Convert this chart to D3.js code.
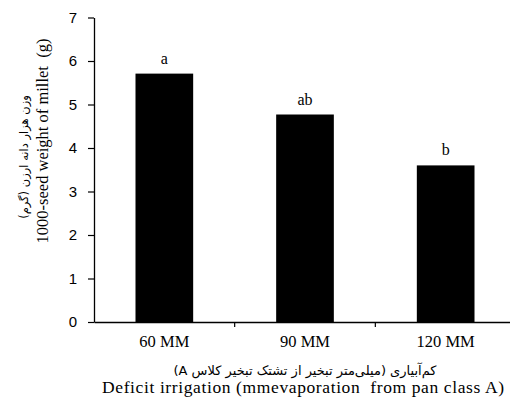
<!DOCTYPE html>
<html><head><meta charset="utf-8">
<script src="https://cdn.jsdelivr.net/npm/d3@7"></script>
<style>body{margin:0;background:#fff}svg text{white-space:pre}</style>
</head><body>
<svg id="c" width="510" height="401"></svg>
<script>
const categories = ["60 MM", "90 MM", "120 MM"];
const values = [5.71, 4.77, 3.60];
const letters = ["a", "ab", "b"];
const yTicks = [0, 1, 2, 3, 4, 5, 6, 7];
const yTitleEn = "1000-seed weight of millet  (g)";
const yTitleFa = "وزن هزار دانه ارزن (گرم)";
const xTitleEn = "Deficit irrigation (mmevaporation  from pan class A)";
const xTitleFa = "کم‌آبیاری (میلی‌متر تبخیر از تشتک تبخیر کلاس A)";

const svg = d3.select("#c");
const mLeft = 94, mRight = 516, mTop = 17.5, mBottom = 322;
const x = d3.scaleBand().domain(categories).range([mLeft, mRight]).paddingInner(0.59).paddingOuter(0.295);
const y = d3.scaleLinear().domain([0, 7]).range([mBottom, mTop]);
const serif = "'Liberation Serif','Times New Roman',serif";

svg.selectAll("rect.bar").data(values).enter().append("rect")
  .attr("x", (d, i) => x(categories[i]))
  .attr("y", d => y(d))
  .attr("width", x.bandwidth())
  .attr("height", d => y(0) - y(d))
  .attr("fill", "#000");

svg.selectAll("text.lt").data(values).enter().append("text")
  .attr("x", (d, i) => x(categories[i]) + x.bandwidth() / 2)
  .attr("y", d => y(d) - 10)
  .attr("text-anchor", "middle")
  .attr("font-family", serif).attr("font-size", 16)
  .text((d, i) => letters[i]);

// y axis
const ya = svg.append("g").attr("transform", `translate(${mLeft},0)`)
  .call(d3.axisLeft(y).tickValues(yTicks).tickFormat(d3.format("d")).tickSize(6).tickSizeOuter(0).tickPadding(11));
ya.select(".domain").attr("stroke", "#000").attr("stroke-width", 1.3);
ya.selectAll(".tick line").attr("stroke-width", 1.2);
ya.selectAll("text").attr("font-family", "'Liberation Sans',Arial,sans-serif").attr("font-size", 15).attr("fill", "#000");

// x axis
const bandStep = x.step();
const xa = svg.append("g").attr("transform", `translate(0,${mBottom})`)
  .call(d3.axisBottom(x).tickSize(0).tickPadding(13));
xa.select(".domain").attr("stroke", "#000").attr("stroke-width", 1.3);
xa.selectAll("text").attr("font-family", serif).attr("font-size", 16.5).attr("fill", "#000");
const bounds = categories.slice(1).map(c => x(c) - (bandStep - x.bandwidth()) / 2);
svg.selectAll("line.sep").data(bounds).enter().append("line")
  .attr("x1", d => d).attr("x2", d => d)
  .attr("y1", mBottom).attr("y2", mBottom + 5)
  .attr("stroke", "#000").attr("stroke-width", 1.2);

// x titles
svg.append("text").attr("x", 305).attr("y", 375).attr("text-anchor", "middle")
  .attr("font-family", "'DejaVu Sans',sans-serif").attr("font-size", 13).attr("direction", "rtl")
  .text(xTitleFa);
svg.append("text").attr("x", 303).attr("y", 393).attr("text-anchor", "middle")
  .attr("font-family", serif).attr("font-size", 17.5)
  .attr("textLength", 402).attr("lengthAdjust", "spacing")
  .text(xTitleEn);

// y titles
svg.append("text").attr("transform", "translate(48,141) rotate(-90)").attr("text-anchor", "middle")
  .attr("font-family", serif).attr("font-size", 16.5)
  .text(yTitleEn);
svg.append("text").attr("transform", "translate(28,157) rotate(-90)").attr("text-anchor", "middle")
  .attr("font-family", "'DejaVu Sans',sans-serif").attr("font-size", 11.5).attr("direction", "rtl")
  .text(yTitleFa);
</script>
</body></html>
